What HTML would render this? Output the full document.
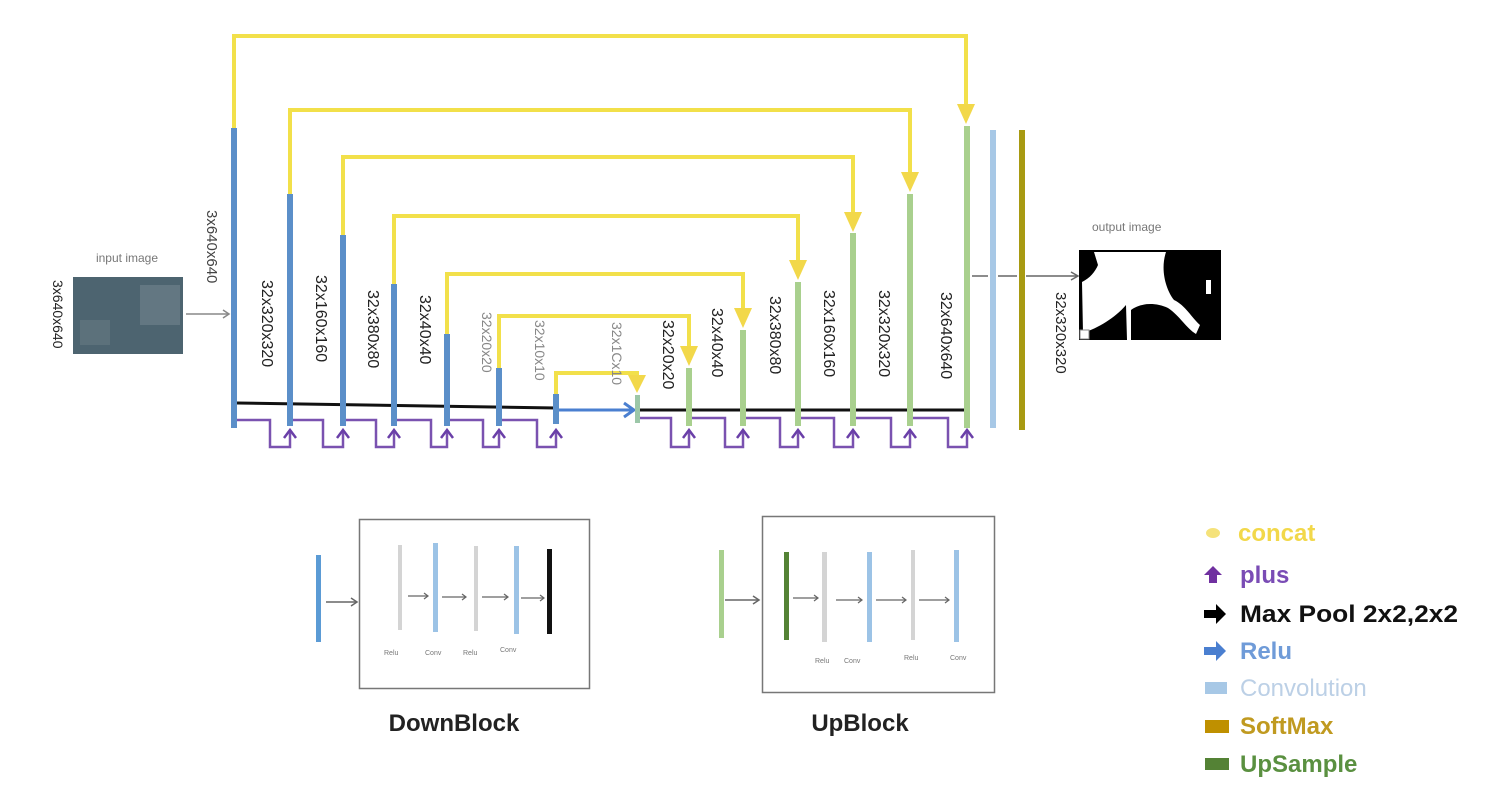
<!DOCTYPE html>
<html><head><meta charset="utf-8"><style>
html,body{margin:0;padding:0;background:#fff;}
svg{display:block;}
text{font-family:"Liberation Sans",sans-serif;}
</style></head><body>
<svg width="1504" height="796" viewBox="0 0 1504 796" xmlns="http://www.w3.org/2000/svg">
<rect width="1504" height="796" fill="#fff"/>

<!-- yellow concat lines -->
<g fill="none" stroke="#f2e04a" stroke-width="4">
<polyline points="234,128 234,36 966,36 966,112"/>
<polyline points="290,194 290,110 910,110 910,180"/>
<polyline points="343,235 343,157 853,157 853,220"/>
<polyline points="394,284 394,216 798,216 798,268"/>
<polyline points="447,334 447,274 743,274 743,316"/>
<polyline points="499,368 499,316 689,316 689,355"/>
<polyline points="556,394 556,373 637,373 637,383"/>
</g>
<g fill="#f2d84a">
<polygon points="957,104 975,104 966,124"/>
<polygon points="901,172 919,172 910,192"/>
<polygon points="844,212 862,212 853,232"/>
<polygon points="789,260 807,260 798,280"/>
<polygon points="734,308 752,308 743,328"/>
<polygon points="680,346 698,346 689,366"/>
<polygon points="628,375 646,375 637,393"/>
</g>

<polyline points="237,403 556,408" stroke="#111" stroke-width="3" fill="none"/>
<line x1="640" y1="410" x2="964" y2="410" stroke="#111" stroke-width="3"/>
<line x1="559" y1="410" x2="632" y2="410" stroke="#4a7fd0" stroke-width="3"/>
<polyline points="624,403 634,410 624,417" fill="none" stroke="#4a7fd0" stroke-width="3"/>

<g fill="none" stroke="#7a52b0" stroke-width="2.5">
<polyline points="237,420 270,420 270,447 290,447 290,432"/>
<polyline points="293,420 323,420 323,447 343,447 343,432"/>
<polyline points="346,420 376,420 376,447 394,447 394,432"/>
<polyline points="397,420 431,420 431,447 447,447 447,432"/>
<polyline points="450,420 483,420 483,447 499,447 499,432"/>
<polyline points="502,420 537,420 537,447 556,447 556,432"/>
<polyline points="640,418 671,418 671,447 689,447 689,432"/>
<polyline points="692,418 725,418 725,447 743,447 743,432"/>
<polyline points="746,418 780,418 780,447 798,447 798,432"/>
<polyline points="801,418 834,418 834,447 853,447 853,432"/>
<polyline points="856,418 891,418 891,447 910,447 910,432"/>
<polyline points="913,418 948,418 948,447 967,447 967,432"/>
</g>
<g fill="none" stroke="#6a3fa8" stroke-width="2.5">
<polyline points="284,438 290,430 296,438"/><polyline points="337,438 343,430 349,438"/>
<polyline points="388,438 394,430 400,438"/><polyline points="441,438 447,430 453,438"/>
<polyline points="493,438 499,430 505,438"/><polyline points="550,438 556,430 562,438"/>
<polyline points="683,438 689,430 695,438"/><polyline points="737,438 743,430 749,438"/>
<polyline points="792,438 798,430 804,438"/><polyline points="847,438 853,430 859,438"/>
<polyline points="904,438 910,430 916,438"/><polyline points="961,438 967,430 973,438"/>
</g>

<g fill="#5b8fc9">
<rect x="231" y="128" width="6" height="300"/>
<rect x="287" y="194" width="6" height="232"/>
<rect x="340" y="235" width="6" height="191"/>
<rect x="391" y="284" width="6" height="142"/>
<rect x="444" y="334" width="6" height="92"/>
<rect x="496" y="368" width="6" height="58"/>
<rect x="553" y="394" width="6" height="30"/>
</g>
<rect x="635" y="395" width="5" height="28" fill="#9cc7a8"/>
<g fill="#a9d08e">
<rect x="686" y="368" width="6" height="58"/>
<rect x="740" y="330" width="6" height="96"/>
<rect x="795" y="282" width="6" height="144"/>
<rect x="850" y="233" width="6" height="193"/>
<rect x="907" y="194" width="6" height="232"/>
<rect x="964" y="126" width="6" height="302"/>
</g>
<rect x="990" y="130" width="6" height="298" fill="#a7c8e6"/>
<rect x="1019" y="130" width="6" height="300" fill="#a89a12"/>

<rect x="73" y="277" width="110" height="77" fill="#4d6470"/>
<rect x="140" y="285" width="40" height="40" fill="#7a8a94" opacity="0.5"/>
<rect x="80" y="320" width="30" height="25" fill="#6b7d86" opacity="0.5"/>
<text x="127" y="262" font-size="12" fill="#777" text-anchor="middle">input image</text>
<line x1="186" y1="314" x2="228" y2="314" stroke="#888" stroke-width="1.5"/>
<polyline points="223,310 229,314 223,318" fill="none" stroke="#888" stroke-width="1.5"/>

<line x1="972" y1="276" x2="988" y2="276" stroke="#666" stroke-width="1.5"/>
<line x1="998" y1="276" x2="1017" y2="276" stroke="#666" stroke-width="1.5"/>
<line x1="1026" y1="276" x2="1077" y2="276" stroke="#666" stroke-width="1.5"/>
<polyline points="1071,272 1078,276 1071,280" fill="none" stroke="#666" stroke-width="1.5"/>
<text x="1092" y="231" font-size="12" fill="#777">output image</text>
<rect x="1079" y="250" width="142" height="90" fill="#000"/>
<path d="M1094,252 L1166,252 C1160,270 1166,290 1174,300 C1185,305 1192,318 1200,325 L1196,334 C1186,328 1180,316 1168,308 C1155,302 1140,303 1131,310 L1131,340 L1127,340 L1126,305 C1115,318 1098,328 1083,333 L1082,282 C1090,278 1095,272 1098,265 Z" fill="#fff"/>
<path d="M1082,258 C1090,262 1092,272 1082,280 Z" fill="#000"/>
<rect x="1206" y="280" width="5" height="14" fill="#fff"/>
<rect x="1080" y="330" width="9" height="9" fill="#fff" stroke="#888"/>

<g font-size="16" fill="#222">
<text transform="translate(53,280) rotate(90)" font-size="14">3x640x640</text>
<text transform="translate(207,210) rotate(90)" font-size="15" fill="#444">3x640x640</text>
<text transform="translate(262,280) rotate(90)">32x320x320</text>
<text transform="translate(316,275) rotate(90)">32x160x160</text>
<text transform="translate(368,290) rotate(90)">32x380x80</text>
<text transform="translate(420,295) rotate(90)">32x40x40</text>
<text transform="translate(482,312) rotate(90)" font-size="14" fill="#888">32x20x20</text>
<text transform="translate(535,320) rotate(90)" font-size="14" fill="#888">32x10x10</text>
<text transform="translate(612,322) rotate(90)" font-size="14" fill="#888">32x1Cx10</text>
<text transform="translate(663,320) rotate(90)">32x20x20</text>
<text transform="translate(712,308) rotate(90)">32x40x40</text>
<text transform="translate(770,296) rotate(90)">32x380x80</text>
<text transform="translate(824,290) rotate(90)">32x160x160</text>
<text transform="translate(879,290) rotate(90)">32x320x320</text>
<text transform="translate(941,292) rotate(90)">32x640x640</text>
<text transform="translate(1056,292) rotate(90)" font-size="15">32x320x320</text>
</g>

<rect x="316" y="555" width="5" height="87" fill="#5b9bd5"/>
<line x1="326" y1="602" x2="356" y2="602" stroke="#666" stroke-width="1.5"/>
<polyline points="351,598 357,602 351,606" fill="none" stroke="#666" stroke-width="1.5"/>
<rect x="359.5" y="519.5" width="230" height="169" fill="none" stroke="#777" stroke-width="1.5"/>
<rect x="398" y="545" width="4" height="85" fill="#d4d4d4"/>
<rect x="433" y="543" width="5" height="89" fill="#9cc3e6"/>
<rect x="474" y="546" width="4" height="85" fill="#d4d4d4"/>
<rect x="514" y="546" width="5" height="88" fill="#9cc3e6"/>
<rect x="547" y="549" width="5" height="85" fill="#111"/>
<g stroke="#666" stroke-width="1.2" fill="none">
<line x1="408" y1="596" x2="428" y2="596"/><polyline points="424,593 428,596 424,599"/>
<line x1="442" y1="597" x2="466" y2="597"/><polyline points="462,594 466,597 462,600"/>
<line x1="482" y1="597" x2="508" y2="597"/><polyline points="504,594 508,597 504,600"/>
<line x1="521" y1="598" x2="544" y2="598"/><polyline points="540,595 544,598 540,601"/>
</g>
<g font-size="7" fill="#777">
<text x="384" y="655">Relu</text><text x="425" y="655">Conv</text><text x="463" y="655">Relu</text><text x="500" y="652">Conv</text>
</g>
<text x="454" y="731" font-size="24" font-weight="bold" fill="#222" text-anchor="middle">DownBlock</text>

<rect x="719" y="550" width="5" height="88" fill="#a9d08e"/>
<line x1="725" y1="600" x2="758" y2="600" stroke="#666" stroke-width="1.5"/>
<polyline points="753,596 759,600 753,604" fill="none" stroke="#666" stroke-width="1.5"/>
<rect x="762.5" y="516.5" width="232" height="176" fill="none" stroke="#777" stroke-width="1.5"/>
<rect x="784" y="552" width="5" height="88" fill="#548235"/>
<rect x="822" y="552" width="5" height="90" fill="#d4d4d4"/>
<rect x="867" y="552" width="5" height="90" fill="#9cc3e6"/>
<rect x="911" y="550" width="4" height="90" fill="#d4d4d4"/>
<rect x="954" y="550" width="5" height="92" fill="#9cc3e6"/>
<g stroke="#666" stroke-width="1.2" fill="none">
<line x1="793" y1="598" x2="818" y2="598"/><polyline points="814,595 818,598 814,601"/>
<line x1="836" y1="600" x2="862" y2="600"/><polyline points="858,597 862,600 858,603"/>
<line x1="876" y1="600" x2="906" y2="600"/><polyline points="902,597 906,600 902,603"/>
<line x1="919" y1="600" x2="949" y2="600"/><polyline points="945,597 949,600 945,603"/>
</g>
<g font-size="7" fill="#777">
<text x="815" y="663">Relu</text><text x="844" y="663">Conv</text><text x="904" y="660">Relu</text><text x="950" y="660">Conv</text>
</g>
<text x="860" y="731" font-size="24" font-weight="bold" fill="#222" text-anchor="middle">UpBlock</text>

<g font-size="24" font-weight="bold">
<ellipse cx="1213" cy="533" rx="7" ry="5" fill="#f5e27a"/>
<text x="1238" y="541" fill="#f2d84a">concat</text>
<polygon points="1204,575 1213,566 1222,575 1217,575 1217,583 1209,583 1209,575" fill="#7030a0"/>
<text x="1240" y="583" fill="#7a4cb5">plus</text>
<polygon points="1204,610 1216,610 1216,604 1226,614 1216,624 1216,618 1204,618" fill="#000"/>
<text x="1240" y="622" fill="#111" textLength="218" lengthAdjust="spacingAndGlyphs">Max Pool 2x2,2x2</text>
<polygon points="1204,647 1216,647 1216,641 1226,651 1216,661 1216,655 1204,655" fill="#4a7fd0"/>
<text x="1240" y="659" fill="#6f9bd8">Relu</text>
<rect x="1205" y="682" width="22" height="12" fill="#a7c8e6"/>
<text x="1240" y="696" fill="#bcd0e6" font-weight="normal">Convolution</text>
<rect x="1205" y="720" width="24" height="13" fill="#bf9000"/>
<text x="1240" y="734" fill="#c09a20">SoftMax</text>
<rect x="1205" y="758" width="24" height="12" fill="#548235"/>
<text x="1240" y="772" fill="#5a9040">UpSample</text>
</g>
</svg>
</body></html>
